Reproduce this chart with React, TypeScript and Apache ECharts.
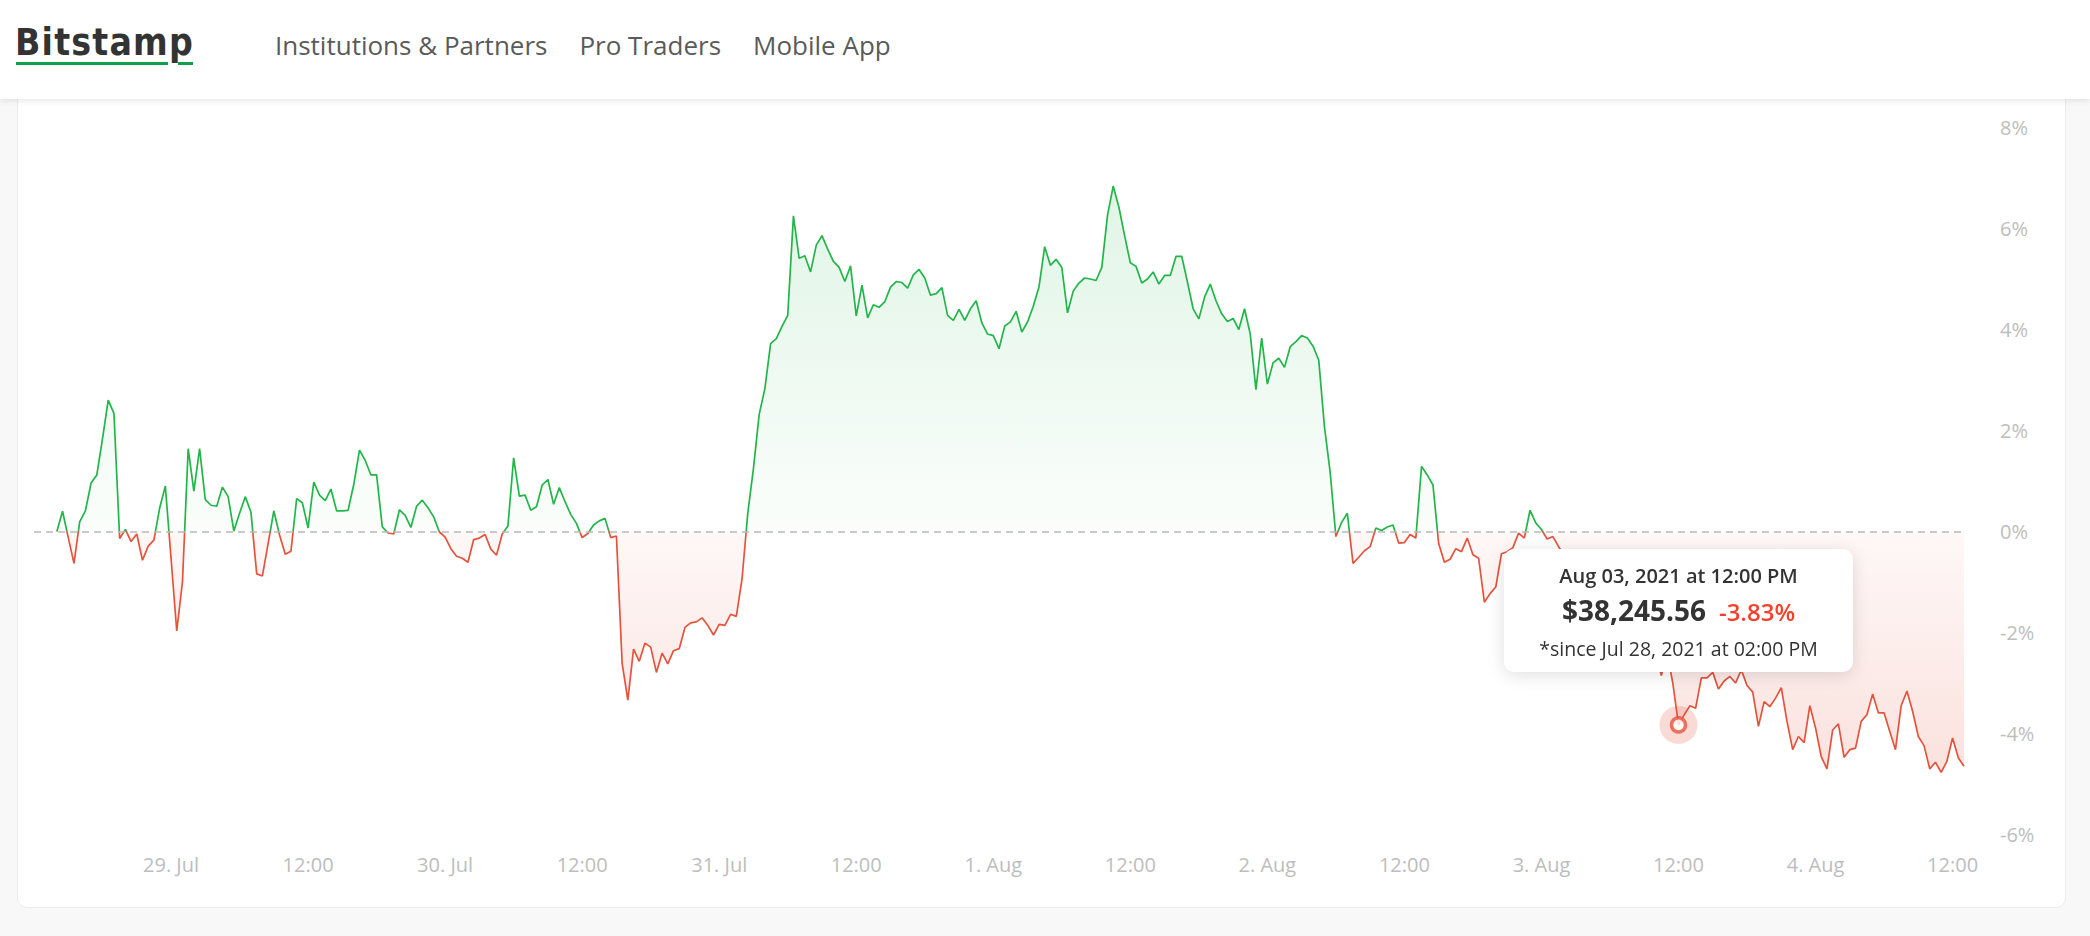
import React, { useEffect, useRef } from "react";
import * as echarts from "echarts";

// hours counted from Jul 28, 2021 00:00; one sample every 30 minutes
const startHour = 14;
const stepHours = 0.5;

// % change since Jul 28, 2021 02:00 PM
const changePct = [
  0.0, 0.4, -0.12, -0.63, 0.19, 0.41, 0.96, 1.12, 1.84, 2.6,
  2.34, -0.14, 0.04, -0.2, -0.05, -0.57, -0.29, -0.17, 0.46, 0.9,
  -0.53, -1.97, -1.0, 1.64, 0.8, 1.64, 0.63, 0.52, 0.5, 0.88,
  0.69, 0.01, 0.36, 0.69, 0.38, -0.84, -0.88, -0.24, 0.41, -0.07,
  -0.45, -0.39, 0.65, 0.57, 0.07, 0.98, 0.72, 0.61, 0.84, 0.41,
  0.41, 0.42, 0.93, 1.61, 1.41, 1.12, 1.12, 0.09, -0.03, -0.05,
  0.43, 0.32, 0.08, 0.5, 0.62, 0.47, 0.29, -0.01, -0.11, -0.34,
  -0.49, -0.53, -0.61, -0.16, -0.13, -0.06, -0.35, -0.47, -0.05, 0.11,
  1.46, 0.7, 0.72, 0.42, 0.49, 0.92, 1.03, 0.54, 0.87, 0.59,
  0.34, 0.16, -0.12, -0.04, 0.13, 0.21, 0.26, -0.12, -0.09, -2.61,
  -3.34, -2.33, -2.57, -2.21, -2.29, -2.79, -2.41, -2.62, -2.36, -2.32,
  -1.9, -1.81, -1.79, -1.71, -1.86, -2.05, -1.84, -1.86, -1.64, -1.68,
  -0.94, 0.36, 1.25, 2.32, 2.83, 3.72, 3.82, 4.06, 4.28, 6.25,
  5.41, 5.46, 5.14, 5.67, 5.86, 5.59, 5.35, 5.23, 4.95, 5.26,
  4.27, 4.88, 4.23, 4.49, 4.44, 4.55, 4.84, 4.95, 4.93, 4.82,
  5.08, 5.19, 5.02, 4.68, 4.71, 4.83, 4.28, 4.18, 4.4, 4.18,
  4.41, 4.57, 4.13, 3.91, 3.88, 3.62, 4.07, 4.15, 4.36, 3.95,
  4.15, 4.46, 4.84, 5.64, 5.27, 5.39, 5.23, 4.33, 4.76, 4.92,
  5.02, 5.0, 4.97, 5.23, 6.26, 6.84, 6.42, 5.86, 5.32, 5.25,
  4.92, 5.0, 5.14, 4.9, 5.07, 5.07, 5.45, 5.45, 4.94, 4.41,
  4.21, 4.64, 4.9, 4.57, 4.31, 4.16, 4.22, 4.0, 4.41, 3.91,
  2.81, 3.83, 2.92, 3.34, 3.43, 3.25, 3.66, 3.76, 3.88, 3.83,
  3.67, 3.39, 2.07, 1.17, -0.1, 0.18, 0.36, -0.63, -0.51, -0.38,
  -0.3, 0.07, 0.02, 0.09, 0.13, -0.23, -0.22, -0.06, -0.13, 1.29,
  1.12, 0.92, -0.24, -0.61, -0.55, -0.34, -0.4, -0.13, -0.46, -0.53,
  -1.4, -1.23, -1.1, -0.44, -0.4, -0.32, -0.03, -0.13, 0.42, 0.17,
  0.04, -0.15, -0.1, -0.3, -0.48, -0.72, -0.95, -0.8, -1.15, -1.35,
  -1.22, -1.55, -1.75, -1.62, -1.95, -2.15, -2.02, -2.35, -2.25, -2.55,
  -2.45, -2.85, -2.4, -3.0, -3.83, -3.63, -3.45, -3.5, -2.9, -2.9,
  -2.79, -3.12, -2.96, -2.87, -3.0, -2.74, -3.05, -3.18, -3.86, -3.37,
  -3.47, -3.3, -3.09, -3.76, -4.32, -4.06, -4.18, -3.45, -3.89, -4.46,
  -4.7, -3.93, -3.81, -4.47, -4.32, -4.29, -3.76, -3.63, -3.22, -3.59,
  -3.59, -3.96, -4.32, -3.45, -3.16, -3.56, -4.06, -4.24, -4.7, -4.57,
  -4.77, -4.55, -4.09, -4.48, -4.65,
];

const xMinHour = 12;
const xStepHours = 12;
const xTickHours = [24, 36, 48, 60, 72, 84, 96, 108, 120, 132, 144, 156, 168, 180];
const xTickLabels = [
  "29. Jul", "12:00", "30. Jul", "12:00", "31. Jul", "12:00", "1. Aug",
  "12:00", "2. Aug", "12:00", "3. Aug", "12:00", "4. Aug", "12:00",
];
const yMin = -6;
const yMax = 8;
const yStep = 2;

const hoverIndex = 284;
const hoverDate = "Aug 03, 2021 at 12:00 PM";
const hoverPrice = "$38,245.56";
const hoverChange = "-3.83%";
const sinceLabel = "*since Jul 28, 2021 at 02:00 PM";

const navItems = ["Institutions & Partners", "Pro Traders", "Mobile App"];

const GREEN = "#22b54a";
const RED = "#e5533d";
const FONT = "'Open Sans', 'Noto Sans', sans-serif";

function Chart() {
  const ref = useRef<HTMLDivElement>(null);
  useEffect(() => {
    if (!ref.current) return;
    const chart = echarts.init(ref.current, undefined, { renderer: "svg" });
    const seriesData = changePct.map((v, i) => [startHour + i * stepHours, v]);
    const maxV = Math.max(...changePct);
    const minV = Math.min(...changePct);
    const f0 = maxV / (maxV - minV);
    const hoverPoint = seriesData[hoverIndex];

    chart.setOption({
      animation: false,
      grid: { left: 34, right: 126, top: 127.5, bottom: 101.5 },
      xAxis: {
        type: "value",
        min: xMinHour,
        max: startHour + (changePct.length - 1) * stepHours,
        interval: xStepHours,
        axisLine: { show: false },
        axisTick: { show: false },
        splitLine: { show: false },
        axisLabel: {
          formatter: (v: number) => {
            const k = xTickHours.indexOf(v);
            return k >= 0 ? xTickLabels[k] : "";
          },
          color: "#bdbdbd",
          fontSize: 20,
          fontFamily: FONT,
          margin: 19.5,
        },
      },
      yAxis: {
        type: "value",
        position: "right",
        min: yMin,
        max: yMax,
        interval: yStep,
        axisLine: { show: false },
        axisTick: { show: false },
        splitLine: { show: false },
        axisLabel: {
          formatter: "{value}%",
          color: "#bdbdbd",
          fontSize: 20,
          fontFamily: FONT,
          align: "left",
          margin: 36,
          padding: [0, 0, 4, 0],
        },
      },
      visualMap: {
        type: "piecewise",
        show: false,
        dimension: 1,
        seriesIndex: 0,
        pieces: [
          { gt: -50, lte: 0, color: RED },
          { gt: 0, lte: 50, color: GREEN },
        ],
      },
      tooltip: {
        trigger: "item",
        triggerOn: "none",
        alwaysShowContent: true,
        transitionDuration: 0,
        padding: 0,
        borderWidth: 0,
        backgroundColor: "#ffffff",
        extraCssText: "border-radius:10px;box-shadow:0 3px 18px rgba(0,0,0,0.13);",
        position: (point: number[], _p: any, _d: any, _r: any, size: any) => [
          point[0] - size.contentSize[0] / 2,
          point[1] - size.contentSize[1] - 53,
        ],
        formatter: () =>
          `<div style="width:349px;height:123px;box-sizing:border-box;padding-top:14px;text-align:center;font-family:'Open Sans',sans-serif;color:#333;">` +
          `<div style="font-size:20px;font-weight:600;line-height:26px;">${hoverDate}</div>` +
          `<div style="line-height:36px;margin-top:3px;white-space:nowrap;"><span style="font-size:28px;font-weight:700;">${hoverPrice}</span>` +
          `<span style="font-size:24px;font-weight:600;color:#f5412b;margin-left:13px;">${hoverChange}</span></div>` +
          `<div style="font-size:19.5px;line-height:26px;margin-top:2px;">${sinceLabel}</div></div>`,
      },
      series: [
        {
          type: "line",
          data: seriesData,
          showSymbol: false,
          silent: true,
          lineStyle: { width: 1.7 },
          areaStyle: {
            origin: 0,
            opacity: 1,
            color: new echarts.graphic.LinearGradient(0, 0, 0, 1, [
              { offset: 0, color: "rgba(34,181,74,0.14)" },
              { offset: f0, color: "rgba(34,181,74,0.02)" },
              { offset: f0, color: "rgba(229,83,61,0.04)" },
              { offset: 1, color: "rgba(229,83,61,0.17)" },
            ]),
          },
          markLine: {
            silent: true,
            symbol: ["none", "none"],
            label: { show: false },
            lineStyle: { color: "#bbbbbb", width: 1.5, type: [7, 5] },
            emphasis: { disabled: true },
            data: [{ yAxis: 0 }],
          },
          z: 2,
        },
        {
          type: "scatter",
          data: [hoverPoint],
          symbol: "circle",
          symbolSize: 38,
          silent: true,
          itemStyle: { color: "rgba(229,83,61,0.27)" },
          z: 3,
        },
        {
          type: "scatter",
          data: [hoverPoint],
          symbol: "circle",
          symbolSize: 14,
          itemStyle: { color: "#ffffff", borderColor: RED, borderWidth: 3.5 },
          emphasis: { disabled: true },
          z: 4,
        },
      ],
    });
    chart.dispatchAction({ type: "showTip", seriesIndex: 2, dataIndex: 0 });
    return () => chart.dispose();
  }, []);
  return (
    <div
      ref={ref}
      style={{ position: "absolute", left: 0, top: 0, width: 2090, height: 936 }}
    />
  );
}

export default function App() {
  return (
    <div
      style={{
        position: "absolute",
        left: 0,
        top: 0,
        width: 2090,
        height: 936,
        background: "#f8f8f8",
        overflow: "hidden",
        fontFamily: FONT,
      }}
    >
      <div
        style={{
          position: "absolute",
          left: 17,
          top: -20,
          width: 2049,
          height: 928,
          background: "#ffffff",
          border: "1px solid #ebebeb",
          borderRadius: 10,
          boxSizing: "border-box",
        }}
      />
      <Chart />
      <div
        style={{
          position: "absolute",
          left: 0,
          top: 0,
          width: 2090,
          height: 99,
          background: "#ffffff",
          boxShadow: "0 2px 6px rgba(0,0,0,0.09)",
          zIndex: 5,
        }}
      >
        <div
          style={{
            position: "absolute",
            left: 15,
            top: 21,
            fontFamily: "'DejaVu Sans Condensed', 'DejaVu Sans', sans-serif",
            fontWeight: 700,
            fontSize: 37,
            color: "#333333",
            letterSpacing: 1.2,
          }}
        >
          Bitstamp
        </div>
        <div style={{ position: "absolute", left: 16, top: 61.5, width: 152, height: 3.5, background: "#0f9f48" }} />
        <div style={{ position: "absolute", left: 178, top: 61.5, width: 15, height: 3.5, background: "#0f9f48" }} />
        <div
          style={{
            position: "absolute",
            left: 275,
            top: 27,
            display: "flex",
            gap: 32,
            fontSize: 26,
            color: "#5a5a5a",
            whiteSpace: "nowrap",
          }}
        >
          {navItems.map((t) => (
            <span key={t}>{t}</span>
          ))}
        </div>
      </div>
    </div>
  );
}
